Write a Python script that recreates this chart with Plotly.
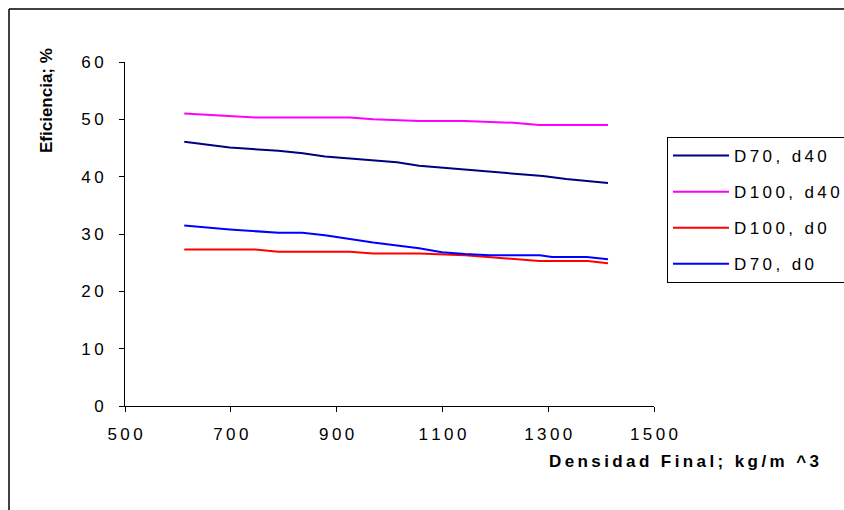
import plotly.graph_objects as go

# ---- data ----
series_names = ["D70, d40", "D100, d40", "D100, d0", "D70, d0"]
series_colors = ["#000080", "#FF00FF", "#FF0000", "#0000FF"]

x_d70_d40 = [612, 698, 790, 836, 878, 969, 1014, 1056, 1143, 1234, 1290, 1334, 1413]
y_d70_d40 = [46.1, 45.1, 44.5, 44.1, 43.5, 42.8, 42.5, 41.9, 41.2, 40.5, 40.1, 39.6, 38.9]

x_d100_d40 = [612, 698, 746, 925, 969, 1056, 1143, 1234, 1283, 1334, 1413]
y_d100_d40 = [51.0, 50.6, 50.3, 50.3, 50.0, 49.7, 49.7, 49.4, 49.0, 49.0, 49.0]

x_d100_d0 = [612, 746, 790, 925, 969, 1056, 1143, 1234, 1283, 1334, 1375, 1413]
y_d100_d0 = [27.3, 27.3, 26.9, 26.9, 26.6, 26.6, 26.3, 25.6, 25.3, 25.3, 25.3, 24.9]

x_d70_d0 = [612, 698, 790, 835, 878, 969, 1056, 1099, 1143, 1190, 1284, 1307, 1334, 1373, 1413]
y_d70_d0 = [31.5, 30.8, 30.2, 30.2, 29.8, 28.5, 27.5, 26.8, 26.5, 26.3, 26.3, 26.0, 26.0, 26.0, 25.6]

x_tick_vals = [500, 700, 900, 1100, 1300, 1500]
x_tick_labels = ["500", "700", "900", "1100", "1300", "1500"]
y_tick_vals = [0, 10, 20, 30, 40, 50, 60]
y_tick_labels = ["0", "10", "20", "30", "40", "50", "60"]

x_title = "Densidad Final; kg/m ^3"
y_title = "Eficiencia; %"


def sp(s):
    """Emulate the wide letter spacing of the original with thin spaces."""
    return "\u2009".join(s)


FONT = "Liberation Sans, Arial, sans-serif"
FS = 17

xs = [x_d70_d40, x_d100_d40, x_d100_d0, x_d70_d0]
ys = [y_d70_d40, y_d100_d40, y_d100_d0, y_d70_d0]

fig = go.Figure()
for i, (name, col, xv, yv) in enumerate(zip(series_names, series_colors, xs, ys)):
    fig.add_trace(go.Scatter(
        x=xv, y=yv, mode="lines", name=sp(name),
        line=dict(color=col, width=2),
        legendgroup=f"g{i}",
    ))

fig.update_layout(
    width=844, height=510,
    margin=dict(l=125, r=190, t=62, b=104, autoexpand=False),
    paper_bgcolor="white", plot_bgcolor="white",
    font=dict(family=FONT, size=FS, color="black"),
    showlegend=True,
    legend=dict(
        x=(667 - 125) / 529, xanchor="left", y=(406 - 137) / 344, yanchor="top",
        bordercolor="black", borderwidth=1, bgcolor="white",
        font=dict(family=FONT, size=FS, color="black"),
        tracegroupgap=11, itemwidth=56,
    ),
    xaxis=dict(
        range=[500, 1500], tickvals=x_tick_vals, ticktext=[sp(t) for t in x_tick_labels],
        showline=True, linecolor="black", linewidth=1,
        ticks="outside", ticklen=5, tickcolor="black", tickwidth=1,
        showgrid=False, zeroline=False, ticklabelstandoff=8,
    ),
    yaxis=dict(
        range=[0, 60], tickvals=y_tick_vals, ticktext=[sp(t) for t in y_tick_labels],
        showline=True, linecolor="black", linewidth=1,
        ticks="outside", ticklen=5, tickcolor="black", tickwidth=1,
        showgrid=False, zeroline=False, ticklabelstandoff=12,
    ),
    shapes=[
        # outer frame of the original picture (left and top edges only)
        dict(type="line", xref="paper", yref="paper",
             x0=(9 - 125) / 529, x1=(9 - 125) / 529,
             y0=(406 - 9) / 344, y1=(406 - 560) / 344,
             line=dict(color="black", width=1.5)),
        dict(type="line", xref="paper", yref="paper",
             x0=(9 - 125) / 529, x1=(900 - 125) / 529,
             y0=(406 - 9) / 344, y1=(406 - 9) / 344,
             line=dict(color="black", width=1.5)),
    ],
    annotations=[
        dict(text="<b>" + sp(x_title) + "</b>", xref="paper", yref="paper",
             x=(684 - 125) / 529, y=(406 - 461) / 344, xanchor="center", yanchor="middle",
             showarrow=False, font=dict(family=FONT, size=FS, color="black")),
        dict(text="<b>" + y_title + "</b>", xref="paper", yref="paper",
             x=(46 - 125) / 529, y=(406 - 101) / 344, xanchor="center", yanchor="middle",
             textangle=-90, showarrow=False,
             font=dict(family=FONT, size=FS, color="black")),
    ],
)

fig.write_html("out.html", config={"displayModeBar": False})
